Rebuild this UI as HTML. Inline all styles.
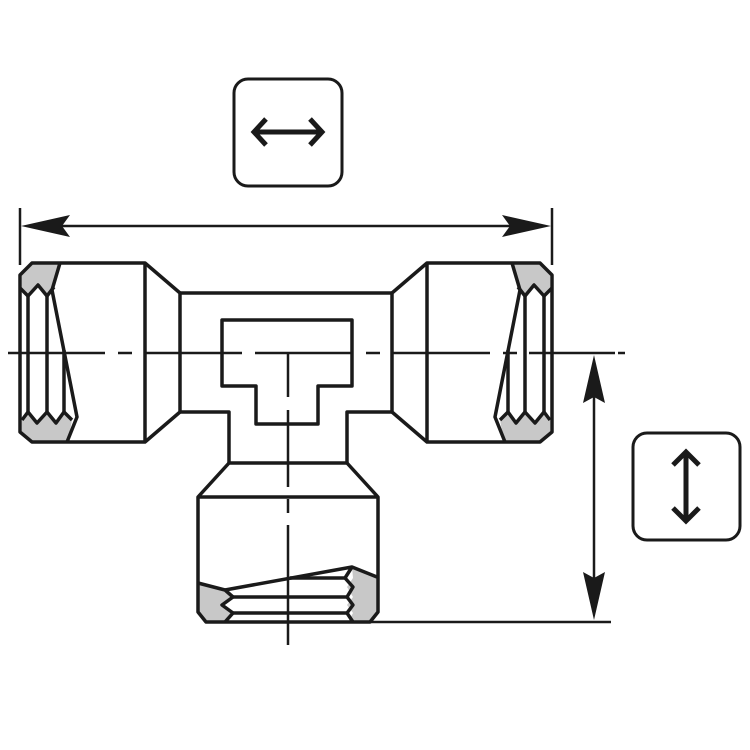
<!DOCTYPE html>
<html><head><meta charset="utf-8"><style>html,body{margin:0;padding:0;background:#fff}svg{display:block}</style></head>
<body>
<svg width="750" height="750" viewBox="0 0 750 750" xmlns="http://www.w3.org/2000/svg">
<defs>
<g id="lthread">
  <polygon points="22,288 22,275 32,263 60,263 52,288 47,296 38,285 28,296" fill="#c8c8c8"/>
  <polygon points="22,420 28,412 37,423 47,412 56,423 64,412 72,420 68,442 32,442 22,435" fill="#c8c8c8"/>
  <g fill="none" stroke="#1a1a1a" stroke-width="3.5" stroke-linejoin="round">
    <polyline points="20,288 28,296 38,285 47,296 54,287"/>
    <polyline points="22,420 28,412 37,423 47,412 56,423 64,412 72,420"/>
    <line x1="28" y1="296" x2="28" y2="412"/>
    <line x1="47" y1="296" x2="47" y2="412"/>
    <line x1="64" y1="350" x2="64" y2="412"/>
    <polyline points="60,263 52,290 77,417 67,442"/>
  </g>
</g>
</defs>

<g stroke="#1a1a1a" stroke-width="2.5">
  <line x1="20" y1="208" x2="20" y2="265"/>
  <line x1="552" y1="208" x2="552" y2="265"/>
  <line x1="60" y1="226" x2="512" y2="226"/>
</g>
<polygon points="21,226 70,215 62,226 70,237" fill="#1a1a1a"/>
<polygon points="551,226 502,215 510,226 502,237" fill="#1a1a1a"/>

<g stroke="#1a1a1a" stroke-width="2.5">
  <line x1="594" y1="395" x2="594" y2="580"/>
  <line x1="370" y1="622" x2="611" y2="622"/>
</g>
<polygon points="594,355 583,403 594,397 605,403" fill="#1a1a1a"/>
<polygon points="594,620 583,572 594,578 605,572" fill="#1a1a1a"/>

<use href="#lthread"/>
<use href="#lthread" transform="translate(572,0) scale(-1,1)"/>

<polygon points="198,583 225,590 233,597 222,605 233,613 225,622 206,622 198,612" fill="#c8c8c8"/>
<polygon points="352,567 377,577 378,612 370,622 348,622 353,613 347,605 353,597 347,587 353,578" fill="#c8c8c8"/>

<g fill="none" stroke="#1a1a1a" stroke-width="3.5" stroke-linejoin="round">
  <polygon points="20,275 32,263 145,263 180,293 180,412 145,442 32,442 20,432"/>
  <line x1="145" y1="263" x2="145" y2="442"/>
  <polygon points="552,275 540,263 427,263 392,293 392,412 427,442 540,442 552,432"/>
  <line x1="427" y1="263" x2="427" y2="442"/>
  <line x1="180" y1="293" x2="392" y2="293"/>
  <polyline points="180,412 229,412 229,463 347,463 347,412 392,412"/>
  <polygon points="222,320 352,320 352,386 318,386 318,424 256,424 256,386 222,386"/>
  <polyline points="229,463 198,497 198,612 206,622 370,622 378,612 378,497 347,463"/>
  <line x1="198" y1="497" x2="378" y2="497"/>
  <polyline points="198,583 225,590 233,597 222,605 233,613 225,622"/>
  <polyline points="225,590 352,567 377,577"/>
  <polyline points="352,567 345,578 353,587 347,597 353,605 347,613 353,622"/>
  <line x1="233" y1="597" x2="349" y2="597"/>
  <line x1="233" y1="613" x2="349" y2="613"/>
  <line x1="290" y1="578" x2="347" y2="578"/>
</g>

<g stroke="#1a1a1a" stroke-width="2.5">
  <path d="M8 353 H105 M118 353 H132 M145 353 H242 M255 353 H352 M366 353 H380 M392 353 H490 M503 353 H517 M529 353 H615 M618 353 H625"/>
  <path d="M288 353 V397 M288 410 V424 M288 424 V487 M288 499 V513 M288 525 V645"/>
</g>

<rect x="234" y="79" width="108" height="107" rx="14" fill="none" stroke="#1a1a1a" stroke-width="3"/>
<g fill="none" stroke="#1a1a1a" stroke-width="5" stroke-linejoin="miter">
  <line x1="256" y1="132" x2="320" y2="132"/>
  <polyline points="266,119 254,132 266,145"/>
  <polyline points="310,119 322,132 310,145"/>
</g>
<rect x="633" y="433" width="107" height="107" rx="14" fill="none" stroke="#1a1a1a" stroke-width="3"/>
<g fill="none" stroke="#1a1a1a" stroke-width="5">
  <line x1="686" y1="455" x2="686" y2="518"/>
  <polyline points="673,465 686,452 699,465"/>
  <polyline points="673,508 686,521 699,508"/>
</g>
</svg>
</body></html>
